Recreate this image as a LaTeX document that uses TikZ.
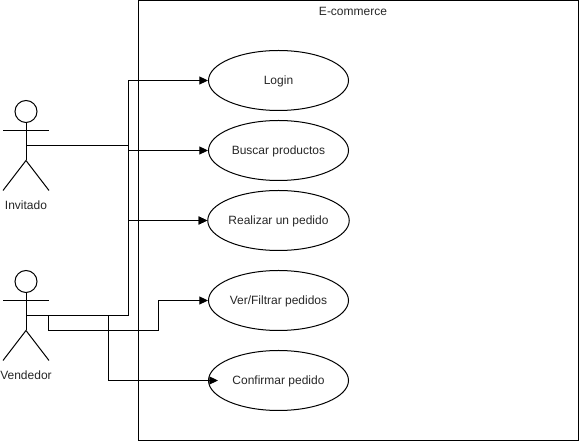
\documentclass[tikz,border=0pt]{standalone}
\usepackage{fontspec}
\setmainfont{Liberation Sans}
\usetikzlibrary{shapes.geometric,arrows.meta}
\tikzset{
  x=0.75pt,y=-0.75pt,
  line/.style={draw=black,line width=0.75pt},
  usecase/.style={ellipse,draw=black,line width=0.75pt,minimum width=105pt,minimum height=45pt,inner sep=0pt,text height=8pt,text depth=1.9pt,font=\fontsize{9}{11}\selectfont,text=black!85},
  lbl/.style={inner sep=0pt,font=\fontsize{9}{11}\selectfont,text=black!85},
  conn/.style={line,-{Triangle[length=6.5pt,width=6pt]}},
  pics/actor/.style={code={
    \draw[line] (0,-34) circle[radius=8.25pt];
    \draw[line] (0,-23) -- (0,15);
    \draw[line] (-23,-15) -- (23,-15);
    \draw[line] (-23,45) -- (0,15) -- (23,45);
  }}
}
\begin{document}
\begin{tikzpicture}
\useasboundingbox (0,0) rectangle (579,441);
\node[draw=black,line width=0.75pt,minimum width=330pt,minimum height=330pt,inner sep=0pt,anchor=north west] (sys) at (138,0.5) {};
\node[lbl] (title) at (353,11) {E-commerce};
\node[usecase] (login) at (278.5,80.5) {Login};
\node[usecase] (buscar) at (278.5,150.5) {Buscar productos};
\node[usecase] (realizar) at (278.5,220.5) {Realizar un pedido};
\node[usecase] (ver) at (278.5,300.5) {Ver/Filtrar pedidos};
\node[usecase] (confirmar) at (278.5,380.5) {Confirmar pedido};
\pic at (26,145.5) {actor};
\pic at (26,315.5) {actor};
\node[lbl] (inv) at (26,205) {Invitado};
\node[lbl] (ven) at (26,375) {Vendedor};
\coordinate (a1) at (26,145.5);
\coordinate (a2) at (26,315.5);
\coordinate (j1) at (128.5,145.5);
\coordinate (j2) at (128.5,315.5);
\coordinate (j3) at (48.5,315.5);
\coordinate (j4) at (108.5,315.5);
\coordinate (t) at (218,380.5);
\draw[conn] (a1) -- (j1) |- (login.west);
\draw[conn] (j1) |- (buscar.west);
\draw[conn] (j1) |- (realizar.west);
\draw[conn] (a2) -- (j2) |- (realizar.west);
\draw[conn] (j3) -- (48.5,330.5) -- (158.5,330.5) |- (ver.west);
\draw[conn] (j4) |- (t);
\end{tikzpicture}
\end{document}
